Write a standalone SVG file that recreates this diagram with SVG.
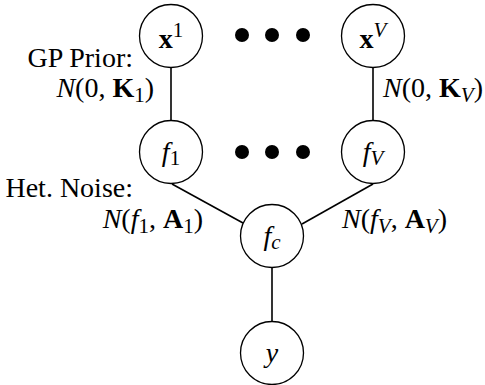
<svg xmlns="http://www.w3.org/2000/svg" width="485" height="385" viewBox="0 0 485 385">
<style>
.node{fill:#fff;stroke:#000;stroke-width:1.3}
.edge{stroke:#000;stroke-width:1.6;fill:none}
.dot{fill:#000}
text{font-family:"Liberation Serif","Times New Roman",serif;font-size:28px;fill:#000}
.i{font-style:italic}
.b{font-weight:bold}
.sub{font-size:21px}
.lbl{text-anchor:end}
.ctr{text-anchor:middle}
</style>
<rect width="485" height="385" fill="#fff"/>
<g id="connectors">
<line class="edge" x1="171" y1="67" x2="171" y2="120"/>
<line class="edge" x1="373" y1="67" x2="373" y2="120"/>
<line class="edge" x1="172" y1="184" x2="243" y2="223"/>
<line class="edge" x1="373" y1="184" x2="302" y2="224"/>
<line class="edge" x1="272" y1="268" x2="272" y2="321"/>
</g>
<g id="x1">
<circle class="node" cx="171" cy="36" r="31.5"/>
<text class="ctr" x="171" y="48"><tspan class="b">x</tspan><tspan class="sub" dy="-11">1</tspan></text>
</g>
<g id="xV">
<circle class="node" cx="373" cy="36" r="31.5"/>
<text class="ctr" x="373" y="48"><tspan class="b">x</tspan><tspan class="sub i" dy="-11">V</tspan></text>
</g>
<g id="dots-top">
<circle class="dot" cx="242" cy="35" r="7"/>
<circle class="dot" cx="272" cy="35" r="7"/>
<circle class="dot" cx="303" cy="35" r="7"/>
</g>
<g id="f1">
<circle class="node" cx="171" cy="152" r="31.5"/>
<text class="ctr" x="171" y="161"><tspan class="i">f</tspan><tspan class="sub" dy="4">1</tspan></text>
</g>
<g id="fV">
<circle class="node" cx="373" cy="152" r="31.5"/>
<text class="ctr" x="373" y="161"><tspan class="i">f</tspan><tspan class="sub i" dy="4">V</tspan></text>
</g>
<g id="dots-mid">
<circle class="dot" cx="242" cy="152" r="7"/>
<circle class="dot" cx="272" cy="152" r="7"/>
<circle class="dot" cx="303" cy="152" r="7"/>
</g>
<g id="fc">
<circle class="node" cx="272" cy="236" r="31.5"/>
<text class="ctr" x="272" y="245"><tspan class="i">f</tspan><tspan class="sub i" dy="4">c</tspan></text>
</g>
<g id="y">
<circle class="node" cx="272" cy="353" r="31.5"/>
<text class="ctr i" x="272" y="362">y</text>
</g>
<g id="labels">
<text class="lbl" x="133" y="67">GP Prior:</text>
<text class="lbl" x="154" y="97"><tspan class="i">N</tspan>(0, <tspan class="b">K</tspan><tspan class="sub" dy="5">1</tspan><tspan dy="-5">)</tspan></text>
<text class="lbl" x="483" y="97"><tspan class="i">N</tspan>(0, <tspan class="b">K</tspan><tspan class="sub i" dy="5">V</tspan><tspan dy="-5">)</tspan></text>
<text class="lbl" x="133" y="197">Het. Noise:</text>
<text class="lbl" x="203" y="228"><tspan class="i">N</tspan>(<tspan class="i">f</tspan><tspan class="sub" dy="5">1</tspan><tspan dy="-5">, </tspan><tspan class="b">A</tspan><tspan class="sub" dy="5">1</tspan><tspan dy="-5">)</tspan></text>
<text x="342" y="228"><tspan class="i">N</tspan>(<tspan class="i">f</tspan><tspan class="sub i" dy="5">V</tspan><tspan dy="-5">, </tspan><tspan class="b">A</tspan><tspan class="sub i" dy="5">V</tspan><tspan dy="-5">)</tspan></text>
</g>
</svg>
